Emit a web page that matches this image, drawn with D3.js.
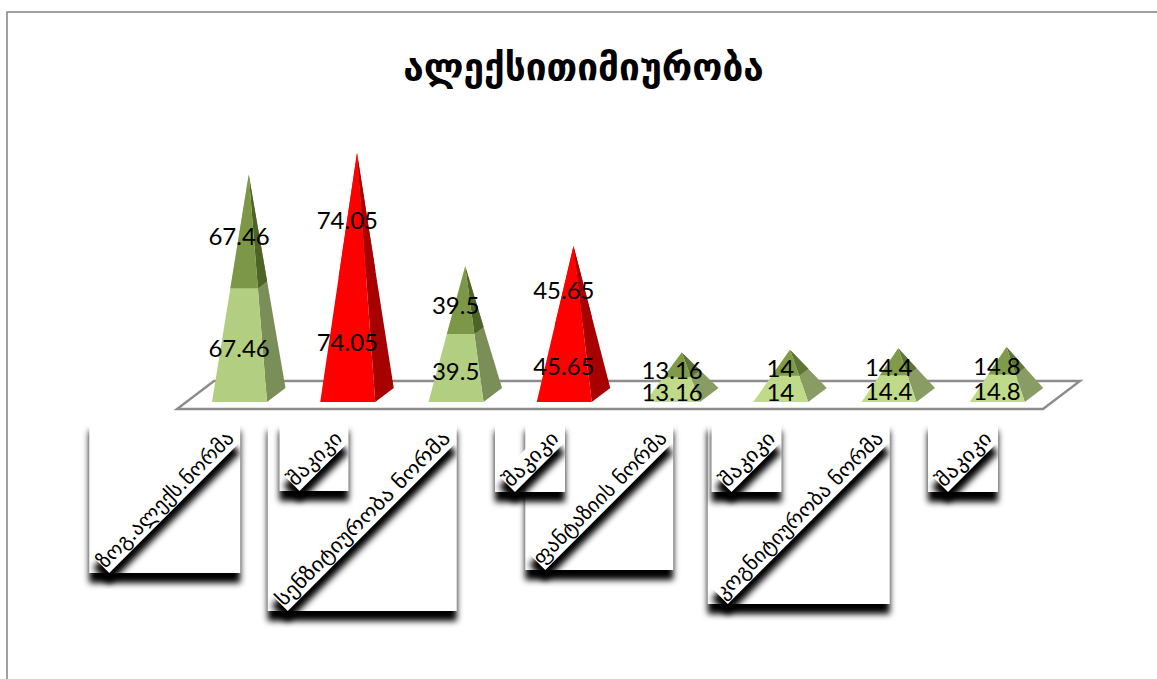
<!DOCTYPE html>
<html><head><meta charset="utf-8">
<script src="https://cdnjs.cloudflare.com/ajax/libs/d3/7.8.5/d3.min.js"></script>
<style>html,body{margin:0;padding:0;background:#fff;overflow:hidden}svg{display:block}</style>
</head><body><div id="chart"></div>
<script>
const titleText = "ალექსითიმიურობა";
const categories = ["ზოგ.ალექს.ნორმა","შაკიკი","სენზიტიურობა  ნორმა","შაკიკი","ფანტაზიის  ნორმა","შაკიკი","კოგნიტიურობა  ნორმა","შაკიკი"];
const seriesLower = [67.46,74.05,39.5,45.65,13.16,14,14.4,14.8];
const seriesUpper = [67.46,74.05,39.5,45.65,13.16,14,14.4,14.8];
const redCategories = [1,3];
const labelBoxSize = [151,69,189,70,148,70,182,70];

const W=1157,H=679;
const svg=d3.select("#chart").append("svg").attr("width",W).attr("height",H);
const defs=svg.append("defs");
defs.append("filter").attr("id","blur").attr("filterUnits","userSpaceOnUse").attr("x",0).attr("y",0).attr("width",W).attr("height",H)
  .append("feGaussianBlur").attr("stdDeviation",3);

svg.append("rect").attr("x",7).attr("y",12).attr("width",W+20).attr("height",H+20)
  .attr("fill","#fff").attr("stroke","#8a8a8a").attr("stroke-width",1.6);

svg.append("text").attr("x",583.5).attr("y",67).attr("text-anchor","middle").attr("dominant-baseline","central")
  .attr("font-family","'DejaVu Sans'").attr("font-weight","bold").attr("font-size",37).attr("fill","#000").text(titleText);

const idx=categories.map((d,i)=>i);
const x=d3.scaleBand().domain(idx).range([177,1043]);
const y=d3.scaleLinear().domain([0,148.1]).range([395.5,153]);

const frontY=402, depthX=18.5, depthY=14, frontW=55, inset=35;
svg.append("path").attr("d",d3.line()([[177,409],[1043,409],[1080,381],[214,381]])+"Z")
  .attr("fill","#fff").attr("stroke","#8c8c8c").attr("stroke-width",2.4);

const lerp=(a,b,t)=>[a[0]+(b[0]-a[0])*t,a[1]+(b[1]-a[1])*t];
const palette=(i,total)=>{
  if(redCategories.includes(i)) return {bf:"#ff0000",br:"#a60000",tf:"#ff0000",tr:"#a60000"};
  if(total<40) return {bf:"#bfdb8a",br:"#889c64",tf:"#7f9b4a",tr:"#5f7537"};
  return {bf:"#b2ce80",br:"#7a8f58",tf:"#7c9748",tr:"#4e6327"};
};
const line=d3.line();
const pyramids=svg.append("g").selectAll("g").data(idx).join("g");
pyramids.each(function(i){
  const g=d3.select(this);
  const total=seriesLower[i]+seriesUpper[i], split=seriesLower[i]/total;
  const L=x(i)+inset, R=L+frontW, B=[R+depthX,frontY-depthY];
  const apex=[L+frontW/2+depthX/2,y(total)];
  const fl=[L,frontY],fr=[R,frontY];
  const ml=lerp(fl,apex,split),mr=lerp(fr,apex,split),mb=lerp(B,apex,split);
  const c=palette(i,total);
  const poly=(pts,col)=>g.append("path").attr("d",line(pts)+"Z").attr("fill",col);
  poly([fr,B,apex],c.br);
  poly([mr,mb,apex],c.tr);
  poly([fl,fr,apex],c.bf);
  poly([ml,mr,apex],c.tf);
});

const labelFont=(sel)=>sel.attr("font-family","Lato").attr("font-size",24).attr("fill","#000")
  .attr("text-anchor","middle").attr("dominant-baseline","central");
const labels=svg.append("g");
idx.forEach(i=>{
  const cx=x(i)+x.bandwidth()/2+8;
  labelFont(labels.append("text")).attr("x",cx).attr("y",y(seriesLower[i]/2)+7).text(seriesLower[i]);
  labelFont(labels.append("text")).attr("x",cx).attr("y",y(seriesLower[i]+seriesUpper[i]/2)+6).text(seriesUpper[i]);
});

// axis labels: rotated text boxes with heavy shadows
const boxTop=422, T=23, cornerIn=20;
const geo=idx.map(i=>{
  const right=x(i)+x.bandwidth()-45, s=labelBoxSize[i];
  return {i,right,s,left:right-s,bottom:boxTop+s,len:(s-cornerIn)*Math.SQRT2};
});
geo.forEach(b=>{
  defs.append("clipPath").attr("id","inside"+b.i).append("rect")
    .attr("x",b.left).attr("y",boxTop).attr("width",b.s).attr("height",b.s+16);
  defs.append("clipPath").attr("id","outside"+b.i).append("path").attr("clip-rule","evenodd")
    .attr("d",`M0,0H${W}V${H}H0Z M${b.left},${boxTop}H${b.right}V${b.bottom}H${b.left}Z`);
});
const boxes=svg.append("g");
boxes.selectAll("rect").data(geo).join("rect").attr("x",d=>d.left).attr("y",boxTop).attr("width",d=>d.s).attr("height",d=>d.s).attr("fill","#fff");
const frameShadows=svg.append("g");
geo.forEach(b=>{
  frameShadows.append("g").attr("clip-path",`url(#outside${b.i})`).append("rect")
    .attr("x",b.left).attr("y",boxTop+9).attr("width",b.s).attr("height",b.s+1)
    .attr("fill","#000").attr("filter","url(#blur)");
});
const stripShadows=svg.append("g");
geo.forEach(b=>{
  stripShadows.append("g").attr("clip-path",`url(#inside${b.i})`).append("g").attr("filter","url(#blur)").append("rect")
    .attr("x",0).attr("y",-T).attr("width",b.len).attr("height",T)
    .attr("transform",`translate(${b.left+cornerIn},${b.bottom+11}) rotate(-45)`)
    .attr("fill","#000");
});
const cover=svg.append("g");
geo.forEach(b=>{
  cover.append("rect").attr("x",0).attr("y",-T).attr("width",b.len).attr("height",T)
    .attr("transform",`translate(${b.left+cornerIn},${b.bottom}) rotate(-45)`).attr("fill","#fff");
});
const texts=svg.append("g");
geo.forEach(b=>{
  texts.append("text").attr("transform",`translate(${b.left+cornerIn},${b.bottom}) rotate(-45)`)
    .attr("x",b.len/2-1).attr("y",-T/2-1).attr("text-anchor","middle").attr("dominant-baseline","central")
    .attr("font-family","'DejaVu Sans'").attr("font-size",20).attr("fill","#000")
    .attr("textLength",b.len-2).attr("lengthAdjust","spacingAndGlyphs").text(categories[b.i]);
});
</script></body></html>
